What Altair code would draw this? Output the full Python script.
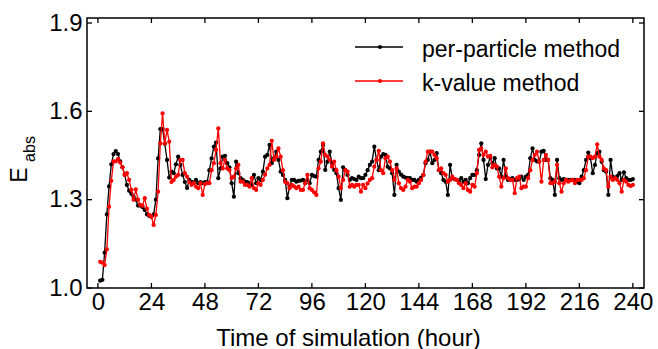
import altair as alt
import pandas as pd

hours = list(range(1, 241))

per_particle = [
    1.025, 1.028, 1.12, 1.25, 1.345, 1.42, 1.455, 1.465, 1.455, 1.43,
    1.41, 1.385, 1.35, 1.33, 1.32, 1.31, 1.30, 1.28, 1.28, 1.275,
    1.265, 1.25, 1.245, 1.242, 1.25, 1.30, 1.44, 1.54, 1.54, 1.49,
    1.435, 1.375, 1.395, 1.39, 1.42, 1.446, 1.418, 1.384, 1.36, 1.34,
    1.367, 1.36, 1.36, 1.367, 1.356, 1.36, 1.356, 1.36, 1.36, 1.40,
    1.44, 1.48, 1.494, 1.373, 1.406, 1.446, 1.449, 1.424, 1.41, 1.356,
    1.31, 1.429, 1.39, 1.373, 1.367, 1.361, 1.36, 1.356, 1.35, 1.384,
    1.356, 1.373, 1.367, 1.395, 1.446, 1.452, 1.486, 1.424, 1.441, 1.463,
    1.435, 1.395, 1.384, 1.367, 1.305, 1.344, 1.367, 1.367, 1.361, 1.364,
    1.365, 1.367, 1.356, 1.367, 1.356, 1.384, 1.38, 1.378, 1.435, 1.463,
    1.486, 1.401, 1.429, 1.463, 1.424, 1.401, 1.39, 1.339, 1.299, 1.41,
    1.40, 1.384, 1.367, 1.373, 1.37, 1.367, 1.378, 1.373, 1.373, 1.384,
    1.40, 1.418, 1.429, 1.48, 1.435, 1.40, 1.446, 1.455, 1.452, 1.412,
    1.406, 1.39, 1.316, 1.418, 1.395, 1.385, 1.378, 1.375, 1.373, 1.373,
    1.367, 1.367, 1.361, 1.367, 1.375, 1.384, 1.424, 1.435, 1.463, 1.424,
    1.435, 1.458, 1.40, 1.39, 1.367, 1.361, 1.316, 1.418, 1.373, 1.37,
    1.367, 1.361, 1.373, 1.361, 1.367, 1.356, 1.373, 1.384, 1.384, 1.40,
    1.452, 1.491, 1.435, 1.37, 1.418, 1.446, 1.424, 1.441, 1.406, 1.406,
    1.378, 1.435, 1.378, 1.367, 1.37, 1.373, 1.367, 1.367, 1.37, 1.378,
    1.367, 1.378, 1.384, 1.441, 1.474, 1.435, 1.43, 1.429, 1.463, 1.466,
    1.435, 1.435, 1.373, 1.367, 1.316, 1.435, 1.373, 1.367, 1.37, 1.367,
    1.367, 1.367, 1.367, 1.367, 1.361, 1.356, 1.378, 1.40, 1.435, 1.46,
    1.441, 1.39, 1.418, 1.458, 1.463, 1.429, 1.40, 1.395, 1.316, 1.435,
    1.378, 1.373, 1.38, 1.39, 1.367, 1.393, 1.373, 1.367, 1.367, 1.37,
]

k_value = [
    1.089, 1.086, 1.078, 1.131, 1.276, 1.364, 1.43, 1.43, 1.438, 1.426,
    1.41, 1.384, 1.39, 1.367, 1.333, 1.30, 1.335, 1.30, 1.282, 1.279,
    1.305, 1.27, 1.248, 1.242, 1.214, 1.248, 1.327, 1.491, 1.593, 1.491,
    1.537, 1.497, 1.36, 1.367, 1.378, 1.384, 1.435, 1.435, 1.39, 1.378,
    1.36, 1.35, 1.356, 1.344, 1.339, 1.356, 1.316, 1.353, 1.356, 1.356,
    1.40, 1.424, 1.469, 1.542, 1.424, 1.406, 1.435, 1.406, 1.40, 1.373,
    1.378, 1.406, 1.418, 1.361, 1.361, 1.35, 1.35, 1.344, 1.373, 1.339,
    1.333, 1.356, 1.35, 1.367, 1.385, 1.406, 1.418, 1.50, 1.435, 1.446,
    1.474, 1.446, 1.40, 1.36, 1.356, 1.339, 1.35, 1.345, 1.339, 1.344,
    1.333, 1.333, 1.356, 1.384, 1.339, 1.333, 1.325, 1.316, 1.406, 1.429,
    1.491, 1.452, 1.446, 1.435, 1.412, 1.429, 1.40, 1.378, 1.339, 1.367,
    1.40, 1.395, 1.344, 1.35, 1.344, 1.35, 1.35, 1.327, 1.35, 1.339,
    1.355, 1.367, 1.373, 1.412, 1.435, 1.466, 1.40, 1.39, 1.441, 1.446,
    1.429, 1.40, 1.367, 1.406, 1.356, 1.339, 1.333, 1.344, 1.367, 1.361,
    1.339, 1.344, 1.344, 1.356, 1.367, 1.384, 1.429, 1.463, 1.463, 1.463,
    1.452, 1.441, 1.40, 1.406, 1.39, 1.384, 1.361, 1.367, 1.378, 1.37,
    1.367, 1.356, 1.35, 1.339, 1.356, 1.333, 1.327, 1.35, 1.344, 1.39,
    1.469, 1.474, 1.452, 1.463, 1.446, 1.449, 1.41, 1.418, 1.412, 1.378,
    1.344, 1.373, 1.406, 1.373, 1.367, 1.367, 1.322, 1.373, 1.378, 1.339,
    1.344, 1.344, 1.373, 1.40, 1.435, 1.452, 1.463, 1.429, 1.361, 1.435,
    1.452, 1.435, 1.356, 1.356, 1.361, 1.418, 1.356, 1.327, 1.356, 1.367,
    1.361, 1.365, 1.367, 1.356, 1.367, 1.367, 1.367, 1.373, 1.40, 1.446,
    1.446, 1.441, 1.446, 1.488, 1.446, 1.435, 1.406, 1.40, 1.344, 1.378,
    1.367, 1.373, 1.367, 1.356, 1.327, 1.367, 1.361, 1.35, 1.346, 1.35,
]

series_names = ["per-particle method", "k-value method"]
series_colors = ["#000000", "#ff0000"]
x_ticks = [0, 24, 48, 72, 96, 120, 144, 168, 192, 216, 240]
y_ticks = [1.0, 1.3, 1.6, 1.9]

FONT = "Liberation Sans"
W, H = 557, 270

xscale = alt.Scale(domain=[-4.9, 245.0], nice=False, zero=False)
yscale = alt.Scale(domain=[1.0, 1.917], nice=False, zero=False)

x_axis = alt.Axis(values=x_ticks, ticks=False, domain=False, grid=False,
                  labelFont=FONT, labelFontSize=24, labelColor="black",
                  labelPadding=2, title="Time of simulation (hour)",
                  titleFont=FONT, titleFontSize=24, titleFontWeight="normal",
                  titleColor="black", titleX=261, titleY=57,
                  titleBaseline="alphabetic", titleAnchor="middle")
y_axis = alt.Axis(values=y_ticks, format=".1f", ticks=False, domain=False,
                  grid=False, labelFont=FONT, labelFontSize=24,
                  labelColor="black", labelPadding=5, title=None)

X_T = alt.X("t:Q", scale=xscale, axis=x_axis)
Y_V = alt.Y("v:Q", scale=yscale, axis=y_axis)

df_b = pd.DataFrame({"t": hours, "v": per_particle})
df_r = pd.DataFrame({"t": hours, "v": k_value})

PT_SIZE = 18


def series_layers(df, color):
    line = alt.Chart(df).mark_line(color=color, strokeWidth=1.3).encode(x=X_T, y=Y_V)
    pts = alt.Chart(df).mark_circle(color=color, size=PT_SIZE, opacity=1).encode(x=X_T, y=Y_V)
    return [line, pts]


layers = series_layers(df_b, series_colors[0]) + series_layers(df_r, series_colors[1])

# inward ticks on all four sides
dfx = pd.DataFrame({"t": x_ticks})
dfy = pd.DataFrame({"v": y_ticks})
tick_len = 5
layers.append(alt.Chart(dfx).mark_rule(color="black", strokeWidth=1.3).encode(
    x=X_T, y=alt.value(H), y2=alt.value(H - tick_len)))
layers.append(alt.Chart(dfx).mark_rule(color="black", strokeWidth=1.3).encode(
    x=X_T, y=alt.value(0), y2=alt.value(tick_len)))
layers.append(alt.Chart(dfy).mark_rule(color="black", strokeWidth=1.3).encode(
    y=Y_V, x=alt.value(0), x2=alt.value(tick_len)))
layers.append(alt.Chart(dfy).mark_rule(color="black", strokeWidth=1.3).encode(
    y=Y_V, x=alt.value(W), x2=alt.value(W - tick_len)))

# legend
leg_rows = [29, 63]
for name, color, ry in zip(series_names, series_colors, leg_rows):
    d = pd.DataFrame({"label": [name]})
    layers.append(alt.Chart(d).mark_rule(color=color, strokeWidth=1.3).encode(
        x=alt.value(268), x2=alt.value(316), y=alt.value(ry)))
    layers.append(alt.Chart(d).mark_circle(color=color, size=PT_SIZE, opacity=1).encode(
        x=alt.value(293), y=alt.value(ry)))
    layers.append(alt.Chart(d).mark_text(font=FONT, fontSize=23, align="left",
                                         baseline="middle", color="black").encode(
        x=alt.value(335), y=alt.value(ry + 3), text="label:N"))

# y-axis title E_abs
dE = pd.DataFrame({"s": ["E"]})
dA = pd.DataFrame({"s": ["abs"]})
layers.append(alt.Chart(dE).mark_text(font=FONT, fontSize=23, angle=270, align="center",
                                      baseline="middle", color="black").encode(
    x=alt.value(-67), y=alt.value(157), text="s:N"))
layers.append(alt.Chart(dA).mark_text(font=FONT, fontSize=16, angle=270, align="center",
                                      baseline="middle", color="black").encode(
    x=alt.value(-57), y=alt.value(131), text="s:N"))

chart = alt.layer(*layers).properties(
    width=W, height=H,
    background="white",
    autosize=alt.AutoSizeParams(type="none"),
    padding={"left": 87, "top": 18, "right": 14, "bottom": 61},
).configure_view(stroke="black", strokeWidth=1.5)

chart.save("out.html", embed_options={"renderer": "svg", "actions": False})
